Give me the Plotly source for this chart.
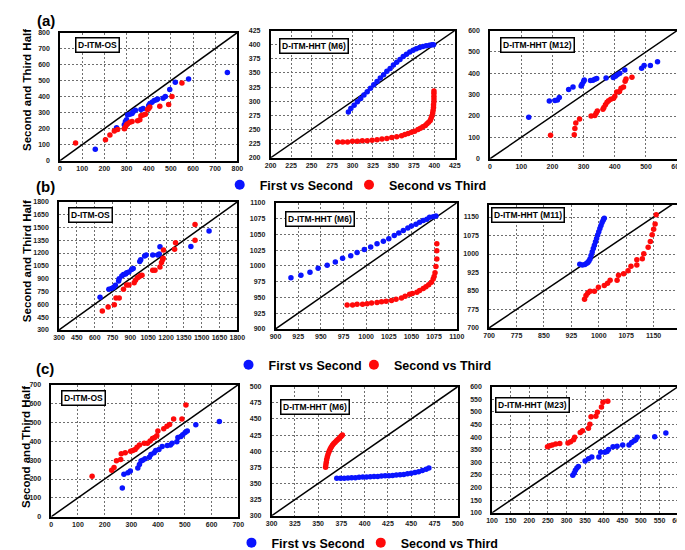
import plotly.graph_objects as go

# ---------------- data ----------------
# Row (a)
A1_FS_X = [159,255,290,295,300,305,315,325,330,340,365,375,400,405,415,425,435,440,465,475,495,520,580,755]
A1_FS_Y = [71,205,225,245,255,285,290,295,305,315,320,325,345,355,365,375,380,385,390,400,445,490,510,550]
A1_ST_X = [70,205,225,245,260,290,295,300,305,315,325,350,360,365,375,385,395,400,405,450,490,505,550]
A1_ST_Y = [110,130,160,185,195,200,210,225,230,240,245,250,255,280,285,290,320,325,335,340,350,400,485]

A2_FS_X = [295,298,302,306,310,314,318,322,326,330,334,338,342,346,350,354,358,362,366,370,374,378,382,386,390,394,397,399]
A2_FS_Y = [281,287,293,299,305,311,317,323,329,335,341,347,353,358,364,369,374,379,383,387,390,393,395,397,398,399,400,400]
A2_ST_X = [282,288,294,300,306,312,318,324,330,336,342,348,354,360,364,368,372,376,380,383,386,389,391,393,395,396,397,398,398.5,399,399,399.5,399.5,399.5,399.5,399.5]
A2_ST_Y = [228,228,228,229,229,230,230,231,232,233,234,236,237,239,241,243,245,247,250,252,255,257,260,263,266,270,274,279,284,289,294,299,304,309,314,318]

A3_FS_X = [124,190,208,216,222,252,266,292,295,300,302,322,330,336,342,372,395,402,408,416,432,486,494,514,537]
A3_FS_Y = [194,270,273,275,287,324,336,340,349,362,369,366,367,372,376,378,380,386,393,400,416,424,436,436,454]
A3_ST_X = [194,270,272,275,287,324,336,340,344,362,365,370,375,380,387,396,400,406,415,420,428,433,436,455]
A3_ST_Y = [110,112,142,167,186,200,203,213,224,232,240,253,264,272,278,283,293,313,315,330,336,363,373,382]

# Row (b)
B1_FS_X = [645,719,741,760,774,801,806,828,842,860,869,888,910,924,979,987,1020,1033,1088,1130,1143,1149,1409,1562]
B1_FS_Y = [682,777,785,800,823,872,899,930,949,955,968,979,1006,1018,1101,1120,1166,1177,1177,1177,1189,1273,1277,1457]
B1_ST_X = [664,713,765,779,806,842,869,888,932,943,960,973,987,998,1088,1107,1149,1162,1171,1176,1179,1272,1280,1444,1444]
B1_ST_Y = [521,567,594,674,674,777,827,827,853,880,911,922,937,941,998,998,1037,1090,1120,1140,1235,1243,1319,1350,1533]

B2_FS_X = [917,928,938,947,957,966,974,983,990,998,1005,1012,1019,1025,1031,1036,1041,1046,1050,1055,1059,1063,1067,1070,1074,1077]
B2_FS_Y = [981,985,990,996,1001,1006,1012,1016,1021,1026,1030,1035,1039,1043,1048,1052,1056,1060,1063,1066,1069,1072,1074,1077,1078,1079]
B2_ST_X = [979,985,990,996,1001,1006,1012,1017,1022,1028,1033,1039,1043,1048,1051,1056,1059,1063,1066,1069,1072,1074,1075,1076,1077,1078,1078,1078]
B2_ST_Y = [938,938,939,939,940,941,942,943,944,945,947,949,952,955,956,958,961,964,967,970,974,979,983,989,999,1011,1024,1035]

B3_FS_X = [948,955,962,967,970,973,976,979,982,985,988,991,994,997,1000,1003,1006,1009,1012,1015]
B3_FS_Y = [958,955,957,962,966,972,980,994,1008,1022,1036,1050,1063,1077,1090,1103,1116,1128,1137,1145]
B3_ST_X = [961,965,970,976,988,999,1015,1024,1031,1050,1054,1068,1080,1088,1104,1104,1119,1123,1135,1141,1146,1150,1154,1157]
B3_ST_Y = [816,832,842,849,849,865,872,881,894,894,914,920,932,950,955,977,981,1001,1027,1051,1078,1100,1122,1159]

# Row (c)
C1_FS_X = [266,272,287,296,324,330,336,342,351,367,373,385,391,403,415,434,446,452,470,474,485,492,501,509,541,629]
C1_FS_Y = [152,225,233,242,259,277,296,299,308,316,330,339,351,356,372,377,380,389,398,420,425,434,446,455,487,505]
C1_ST_X = [153,226,235,244,260,262,277,297,305,314,321,330,348,360,370,379,387,395,399,421,433,443,458,489,504]
C1_ST_Y = [214,247,261,297,304,334,339,347,351,356,368,380,389,389,401,415,420,429,455,467,480,489,518,518,593]

C2_FS_X = [370,374,378,382,386,390,394,398,402,406,410,414,418,422,426,430,434,438,442,446,450,454,458,462,466,469]
C2_FS_Y = [358,358,358,358.5,359,359,359.5,360,360,360.5,361,361,361.5,362,362,362.5,363,363.5,364,365,366,367,368,370,372,374]
C2_ST_X = [358,358.3,358.7,359.2,359.8,360.5,361.3,362.2,363.2,364.3,365.5,366.8,368.2,369.7,371.2,372.7,374,375,376]
C2_ST_Y = [375,379,383,387,391,394.5,398,401,404,407,409.5,412,414,416,418,420,422,423.5,425]

C3_FS_X = [317,321,324,328,332,350,359,368,387,392,403,409,413,425,436,451,468,475,482,486,490,537,567]
C3_FS_Y = [249,258,269,278,284,305,314,321,321,340,340,343,351,362,364,369,369,379,386,390,399,401,416]
C3_ST_X = [249,255,262,271,282,304,311,319,322,337,343,359,363,366,379,383,394,398,411]
C3_ST_Y = [362,366,369,373,375,377,382,390,399,418,425,435,451,481,483,499,519,538,542]

# axis ranges / ticks
A1_RANGE, A1_TICKS = [0, 800], list(range(0, 801, 100))
A2_RANGE, A2_TICKS = [200, 425], list(range(200, 426, 25))
A3_RANGE, A3_TICKS = [0, 600], list(range(0, 601, 100))
B1_RANGE, B1_TICKS = [300, 1800], list(range(300, 1801, 150))
B2_RANGE, B2_TICKS = [900, 1100], list(range(900, 1101, 25))
B3_XRANGE, B3_YRANGE, B3_TICKS = [700, 1217], [700, 1200], list(range(700, 1151, 75))
C1_RANGE, C1_TICKS = [0, 700], list(range(0, 701, 100))
C2_RANGE, C2_TICKS = [300, 500], list(range(300, 501, 25))
C3_RANGE, C3_TICKS = [100, 600], list(range(100, 601, 50))

LABELS = ["D-ITM-OS", "D-ITM-HHT (M6)", "D-ITM-HHT (M12)",
          "D-ITM-OS", "D-ITM-HHT (M6)", "D-ITM-HHT (M11)",
          "D-ITM-OS", "D-ITM-HHT (M6)", "D-ITM-HHT (M23)"]
SERIES = ["First vs Second", "Second vs Third"]
ROW_TAGS = ["(a)", "(b)", "(c)"]
YTITLE = "Second and Third Half"

# ---------------- layout geometry (pixels) ----------------
W, H = 685, 550
FONT = "Liberation Sans, Arial, sans-serif"
BLUE, RED = "#0a14ff", "#ff0a0a"

panels = [
    dict(fs=(A1_FS_X, A1_FS_Y), st=(A1_ST_X, A1_ST_Y), xr=A1_RANGE, yr=A1_RANGE, xt=A1_TICKS, yt=A1_TICKS, diag=A1_RANGE,
         px=(47, 228), py=(21, 152), box=(85, 34)),
    dict(fs=(A2_FS_X, A2_FS_Y), st=(A2_ST_X, A2_ST_Y), xr=A2_RANGE, yr=A2_RANGE, xt=A2_TICKS, yt=A2_TICKS, diag=A2_RANGE,
         px=(262, 450), py=(19, 149), box=(306, 34.5)),
    dict(fs=(A3_FS_X, A3_FS_Y), st=(A3_ST_X, A3_ST_Y), xr=A3_RANGE, yr=A3_RANGE, xt=A3_TICKS, yt=A3_TICKS, diag=A3_RANGE,
         px=(486, 677), py=(19, 150), box=(534, 34)),
    dict(fs=(B1_FS_X, B1_FS_Y), st=(B1_ST_X, B1_ST_Y), xr=B1_RANGE, yr=B1_RANGE, xt=B1_TICKS, yt=B1_TICKS, diag=B1_RANGE,
         px=(46, 228), py=(194, 325), box=(78, 208)),
    dict(fs=(B2_FS_X, B2_FS_Y), st=(B2_ST_X, B2_ST_Y), xr=B2_RANGE, yr=B2_RANGE, xt=B2_TICKS, yt=B2_TICKS, diag=B2_RANGE,
         px=(267, 452), py=(195, 324), box=(312.5, 212)),
    dict(fs=(B3_FS_X, B3_FS_Y), st=(B3_ST_X, B3_ST_Y), xr=B3_XRANGE, yr=B3_YRANGE, xt=B3_TICKS, yt=B3_TICKS, diag=B3_YRANGE,
         px=(485, 678), py=(197, 323), box=(525, 208)),
    dict(fs=(C1_FS_X, C1_FS_Y), st=(C1_ST_X, C1_ST_Y), xr=C1_RANGE, yr=C1_RANGE, xt=C1_TICKS, yt=C1_TICKS, diag=C1_RANGE,
         px=(38, 229), py=(381, 516), box=(70.5, 395)),
    dict(fs=(C2_FS_X, C2_FS_Y), st=(C2_ST_X, C2_ST_Y), xr=C2_RANGE, yr=C2_RANGE, xt=C2_TICKS, yt=C2_TICKS, diag=C2_RANGE,
         px=(263, 453), py=(383, 515), box=(307.5, 404)),
    dict(fs=(C3_FS_X, C3_FS_Y), st=(C3_ST_X, C3_ST_Y), xr=C3_RANGE, yr=C3_RANGE, xt=C3_TICKS, yt=C3_TICKS, diag=C3_RANGE,
         px=(488, 678), py=(383, 512), box=(529, 401.5)),
]

fig = go.Figure()
layout = dict(width=W, height=H, margin=dict(l=0, r=0, t=0, b=0),
              paper_bgcolor="white", plot_bgcolor="white", showlegend=True,
              font=dict(family=FONT, color="black"))
annotations = []
tickfont = dict(family=FONT, size=7, color="#222", weight="bold")

for i, p in enumerate(panels):
    n = i + 1
    sx = "" if n == 1 else str(n)
    xa, ya = "x" + sx, "y" + sx
    axis_common = dict(showgrid=True, gridcolor="#6f6f6f", griddash="2px,2px", gridwidth=1,
                       showline=True, linecolor="black", linewidth=1.5, mirror=True,
                       zeroline=False, ticks="", tickfont=tickfont, fixedrange=True,
                       layer="below traces")
    layout["xaxis" + sx] = dict(domain=[p["px"][0] / W, p["px"][1] / W], range=p["xr"], tickvals=p["xt"],
                                anchor=ya, ticklabeloverflow="allow", **axis_common)
    layout["yaxis" + sx] = dict(domain=[1 - p["py"][1] / H, 1 - p["py"][0] / H], range=p["yr"], tickvals=p["yt"],
                                anchor=xa, ticklabelstandoff=7, **axis_common)
    fig.add_trace(go.Scatter(x=p["diag"], y=p["diag"], mode="lines", line=dict(color="black", width=1.5),
                             xaxis=xa, yaxis=ya, showlegend=False, hoverinfo="skip"))
    fig.add_trace(go.Scatter(x=p["fs"][0], y=p["fs"][1], mode="markers", name=SERIES[0],
                             marker=dict(color=BLUE, size=5.5), xaxis=xa, yaxis=ya, showlegend=False))
    fig.add_trace(go.Scatter(x=p["st"][0], y=p["st"][1], mode="markers", name=SERIES[1],
                             marker=dict(color=RED, size=5.5), xaxis=xa, yaxis=ya, showlegend=False))
    annotations.append(dict(x=p["box"][0] / W, y=1 - p["box"][1] / H, xref="paper", yref="paper",
                            text=LABELS[i], showarrow=False, xanchor="center", yanchor="middle",
                            font=dict(family=FONT, size=8.5, color="black", weight="bold"),
                            bgcolor="white", bordercolor="black", borderwidth=1.5, borderpad=1.5))

# legends: one per item; value = left edge of each legend box in pixels, row y
legend_items = [
    [(210, 177), (342, 177)],
    [(219, 361), (347, 361)],
    [(222, 543), (354, 543)],
]
k = 0
for r, row in enumerate(legend_items):
    for s, col, (lx, ly) in zip(SERIES, [BLUE, RED], row):
        k += 1
        key = "legend" if k == 1 else "legend%d" % k
        layout[key] = dict(orientation="h", x=lx / W, y=1 - ly / H, xanchor="left", yanchor="middle",
                           bgcolor="rgba(0,0,0,0)", borderwidth=0,
                           font=dict(family=FONT, size=12.5, color="black", weight="bold"),
                           itemwidth=30)
        fig.add_trace(go.Scatter(x=[None], y=[None], mode="markers", name=s, legend=key,
                                 marker=dict(color=col, size=10), xaxis="x", yaxis="y", showlegend=True))

# row tags and y titles
tag_pos = [(33, 9), (32, 178), (32, 364)]
ytitle_pos = [(14, 80), (14, 255), (13, 445)]
for r in range(3):
    annotations.append(dict(x=tag_pos[r][0] / W, y=1 - tag_pos[r][1] / H, xref="paper", yref="paper",
                            text=ROW_TAGS[r], showarrow=False, xanchor="center", yanchor="middle",
                            font=dict(family=FONT, size=15, color="black", weight="bold")))
    annotations.append(dict(x=ytitle_pos[r][0] / W, y=1 - ytitle_pos[r][1] / H, xref="paper", yref="paper",
                            text=YTITLE, showarrow=False, xanchor="center", yanchor="middle", textangle=-90,
                            font=dict(family=FONT, size=11.5, color="black", weight="bold")))

layout["annotations"] = annotations
fig.update_layout(**layout)
fig.write_html("out.html")
